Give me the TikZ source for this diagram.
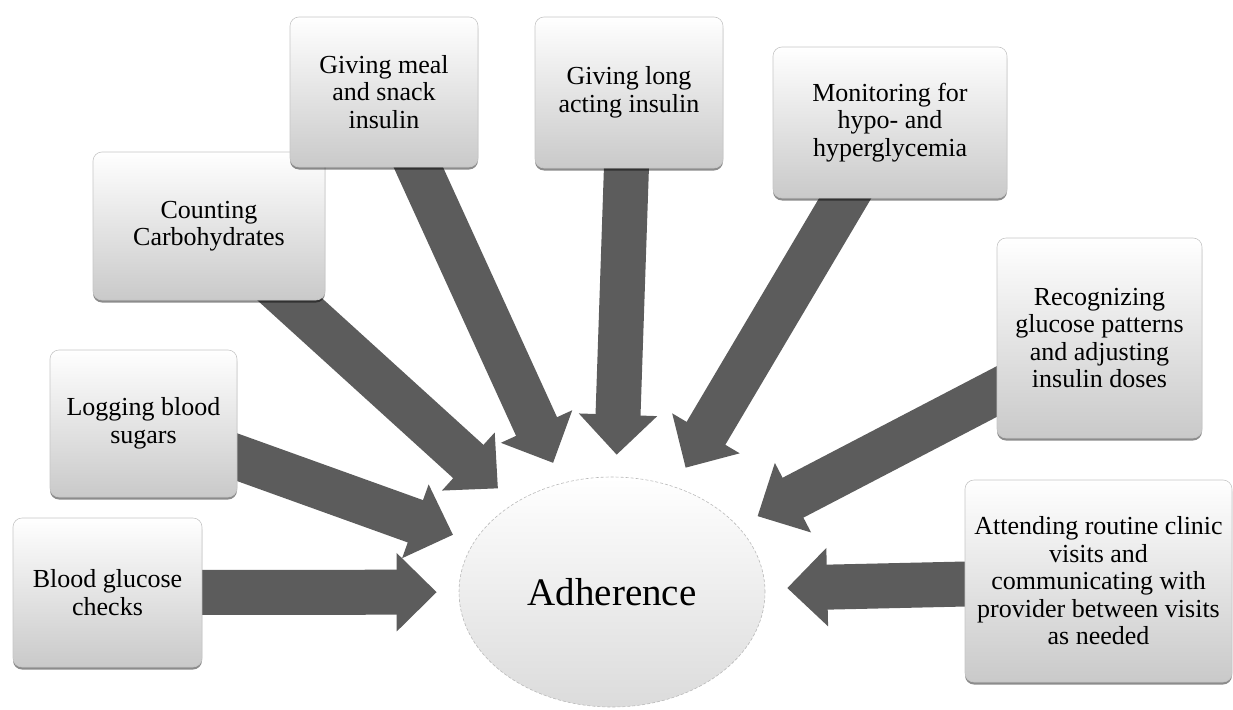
\documentclass[tikz,border=0pt]{standalone}
\usepackage{fontspec}
\setmainfont{Liberation Serif}
\usetikzlibrary{shapes.geometric, arrows.meta, shadows, backgrounds}
\tikzset{
    task/.style={rectangle, rounded corners=9pt, draw=gray!45, line width=0.6pt, top color=white, bottom color=gray!42, align=center, inner sep=4pt, font=\fontsize{26}{27.5}\selectfont, drop shadow={shadow xshift=0pt, shadow yshift=-2.5pt, opacity=0.45, fill=black}},
    goal/.style={ellipse, draw=gray!55, dash pattern=on 3pt off 2pt, line width=0.6pt, top color=white, bottom color=gray!28, minimum width=306pt, minimum height=230pt, inner sep=0pt, font=\fontsize{39}{41}\selectfont},
    bigarrow/.style={line width=45pt, draw=black!64, -{Triangle[width=76pt, length=40pt]}, shorten >=22pt}
}

\begin{document}
\begin{tikzpicture}[x=1pt, y=-1pt]

    \useasboundingbox (0,0) rectangle (1233,709);

    % --- NODES ---
    \node (adherence) [goal] at (612,592) {Adherence};

    \node (blood_checks) [task, minimum width=189pt, minimum height=149pt] at (107.5,592.5) {Blood glucose\\ checks};
    \node (logging) [task, minimum width=187pt, minimum height=147pt] at (143.5,423.5) {Logging blood\\ sugars};
    \node (counting) [task, minimum width=232pt, minimum height=148pt] at (209,226) {Counting\\ Carbohydrates};
    \node (meal_insulin) [task, minimum width=188pt, minimum height=150pt] at (384,92) {Giving meal\\ and snack\\ insulin};
    \node (long_insulin) [task, minimum width=188pt, minimum height=151pt] at (629,92.5) {Giving long\\ acting insulin};
    \node (monitoring) [task, minimum width=234pt, minimum height=151pt] at (890,122.5) {Monitoring for\\ hypo- and\\ hyperglycemia};
    \node (patterns) [task, minimum width=205pt, minimum height=200pt] at (1099.5,338) {Recognizing\\ glucose patterns\\ and adjusting\\ insulin doses};
    \node (clinic_visits) [task, minimum width=267pt, minimum height=202pt] at (1098.5,581) {Attending routine clinic\\ visits and\\ communicating with\\ provider between visits\\ as needed};

    % --- ARROWS ---
    % behind the boxes, all pointing at the ellipse
    \begin{pgfonlayer}{background}
        \draw [bigarrow] (blood_checks.center) -- (adherence);
        \draw [bigarrow] (logging.center) -- (adherence);
        \draw [bigarrow] (counting.center) -- (adherence);
        \draw [bigarrow] (meal_insulin.center) -- (adherence);
        \draw [bigarrow] (long_insulin.center) -- (adherence);
        \draw [bigarrow] (monitoring.center) -- (adherence);
        \draw [bigarrow] (patterns.center) -- (adherence);
        \draw [bigarrow] (clinic_visits.center) -- (adherence);
    \end{pgfonlayer}

\end{tikzpicture}
\end{document}
